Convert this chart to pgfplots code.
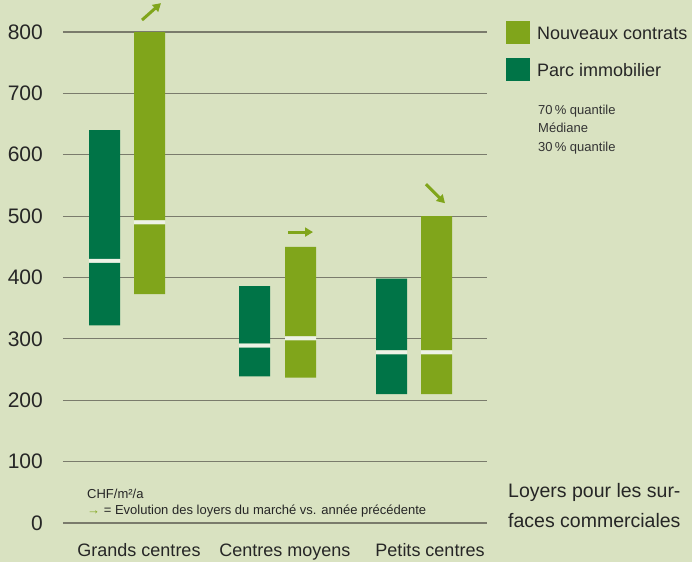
\documentclass[border=0pt]{standalone}
\usepackage{pgfplots}
\pgfplotsset{compat=1.18}
\usepackage{pgfplotstable}
\usepackage{fontspec}
\setmainfont{Liberation Sans}
\usetikzlibrary{arrows.meta}
\definecolor{bg}{HTML}{D9E2C1}
\definecolor{dk}{HTML}{007447}
\definecolor{lt}{HTML}{80A51B}
\definecolor{gridc}{HTML}{7A7B6C}
\definecolor{gapc}{HTML}{EEF2E6}

% x = bar centre, dk = 1 for Parc immobilier, 0 for Nouveaux contrats
\pgfplotstableread{
x dk low med high
104.5 1 322 427 640
149.5 0 373 490 800
254.5 1 239 289 386
300.5 0 237 301 450
391.5 1 210 278 398
436.5 0 210 278 500
}\bars

\pgfplotstableread{
x y u v
142 819.5 19 27.5
288 474 25 0
426 552 19 -31
}\arrowsdata

\pgfplotsset{
  geom/.style={
    at={(63pt,39pt)}, anchor=south west,
    scale only axis, width=424pt, height=491pt,
    xmin=63, xmax=487, ymin=0, ymax=800,
    clip=false,
  }
}

\begin{document}
\begin{tikzpicture}
\useasboundingbox (0,0) rectangle (692pt,562pt);
\clip (0,0) rectangle (692pt,562pt);
\fill[bg] (0,0) rectangle (692pt,562pt);

\begin{axis}[
  geom,
  axis line style={draw=none},
  major tick style={draw=none},
  minor tick style={draw=none},
  ytick={0,100,...,800},
  ymajorgrids,
  grid style={gridc, line width=1.2pt},
  yticklabel style={font=\fontsize{21}{21}\selectfont, anchor=east, inner sep=0pt, xshift=-20pt, text=black!85},
  /pgf/number format/assume math mode=true,
  xtick={139,285,430},
  xticklabels={Grands centres, Centres moyens, Petits centres},
  xticklabel style={font=\fontsize{18}{18}\selectfont, anchor=base, inner sep=0pt, yshift=-33pt, text=black!85},
  ybar stacked, bar width=31pt,
]
\addplot[fill=none, draw=none] table[x=x, y=low] {\bars};
\addplot[fill=dk, draw=none] table[x=x, y expr={\thisrow{dk}*(\thisrow{med}-\thisrow{low}-3.26)}] {\bars};
\addplot[fill=lt, draw=none] table[x=x, y expr={(1-\thisrow{dk})*(\thisrow{med}-\thisrow{low}-3.26)}] {\bars};
\addplot[fill=gapc, draw=none] table[x=x, y expr={6.52}] {\bars};
\addplot[fill=dk, draw=none] table[x=x, y expr={\thisrow{dk}*(\thisrow{high}-\thisrow{med}-3.26)}] {\bars};
\addplot[fill=lt, draw=none] table[x=x, y expr={(1-\thisrow{dk})*(\thisrow{high}-\thisrow{med}-3.26)}] {\bars};
\end{axis}

\begin{axis}[geom, hide axis]
\addplot[lt, line width=3pt, -{Triangle[length=8pt,width=9pt]},
  quiver={u=\thisrow{u}, v=\thisrow{v}}] table[x=x, y=y] {\arrowsdata};
\end{axis}

% legend
\fill[lt] (506pt,518pt) rectangle (530pt,541pt);
\fill[dk] (506pt,481pt) rectangle (530pt,504pt);
\node[anchor=base west, inner sep=0pt, font=\fontsize{18}{18}\selectfont, text=black!85] at (537pt,522pt) {Nouveaux contrats};
\node[anchor=base west, inner sep=0pt, font=\fontsize{18}{18}\selectfont, text=black!85] at (537pt,485pt) {Parc immobilier};
\node[anchor=base west, inner sep=0pt, font=\fontsize{13}{13}\selectfont, text=black!80] at (538pt,447.5pt) {70\,\% quantile};
\node[anchor=base west, inner sep=0pt, font=\fontsize{13}{13}\selectfont, text=black!80] at (538pt,429pt) {Médiane};
\node[anchor=base west, inner sep=0pt, font=\fontsize{13}{13}\selectfont, text=black!80] at (538pt,410pt) {30\,\% quantile};

% notes
\node[anchor=base west, inner sep=0pt, font=\fontsize{13}{13}\selectfont, text=black!85] at (87pt,64pt) {CHF/m²/a};
\node[anchor=base west, inner sep=0pt, font=\fontsize{13}{13}\selectfont, text=black!85] at (87pt,48pt) {\textcolor{lt}{→} = Evolution des loyers du marché vs. année précédente};
\node[anchor=base west, inner sep=0pt, font=\fontsize{19.5}{19.5}\selectfont, text=black!85] at (508pt,65pt) {Loyers pour les sur-};
\node[anchor=base west, inner sep=0pt, font=\fontsize{19.5}{19.5}\selectfont, text=black!85] at (508pt,35pt) {faces commerciales};
\end{tikzpicture}
\end{document}
